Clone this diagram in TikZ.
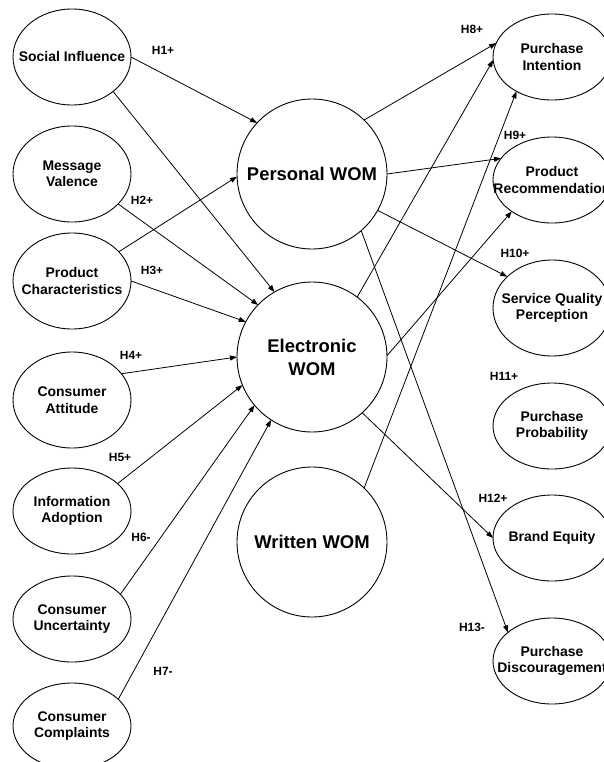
\documentclass[tikz,border=0pt]{standalone}
\usepackage{fontspec}
\setmainfont{Liberation Sans}
\usetikzlibrary{arrows.meta,shapes.geometric}
\begin{document}
\begin{tikzpicture}[x=1bp,y=-1bp,
  oval/.style={draw, ellipse, line width=0.9bp, minimum width=118bp,
    minimum height=#1, inner sep=0pt, outer sep=0pt},
  oval/.default=86bp,
  txt/.style={font=\bfseries\fontsize{14}{16.5}\selectfont, align=center},
  bigc/.style={draw, circle, line width=0.9bp, minimum size=150bp,
    inner sep=0pt, outer sep=0pt, align=center,
    font=\bfseries\fontsize{18.5}{23}\selectfont},
  hyp/.style={font=\bfseries\fontsize{12}{14}\selectfont, inner sep=0pt},
  link/.style={line width=0.8bp, -{Triangle[length=7bp,width=5bp]}}]

\path[use as bounding box] (0,0) rectangle (604,762);
\clip (0,0) rectangle (604,762);

% antecedents
\node[oval=96bp, label={[txt]center:Social Influence}] (si) at (72,57) {};
\node[oval=96bp, label={[txt]center:Message\\Valence}] (mv) at (72,174) {};
\node[oval=96bp, label={[txt]center:Product\\Characteristics}] (pc) at (72,281) {};
\node[oval=96bp, label={[txt]center:Consumer\\Attitude}] (ca) at (72,400) {};
\node[oval, label={[txt]center:Information\\Adoption}] (ia) at (72,511) {};
\node[oval, label={[txt]center:Consumer\\Uncertainty}] (cu) at (72,619) {};
\node[oval, label={[txt]center:Consumer\\Complaints}] (cc) at (72,726) {};

% word of mouth
\node[bigc] (pw) at (312,174) {Personal WOM};
\node[bigc] (ew) at (312,357) {Electronic\\WOM};
\node[bigc] (ww) at (312,542) {Written WOM};

% outcomes
\node[oval, label={[txt]center:Purchase\\Intention}] (pi) at (552,57) {};
\node[oval, label={[txt]center:Product\\Recommendation}] (pr) at (552,180) {};
\node[oval=96bp, label={[txt]center:Service Quality\\Perception}] (sq) at (552,308) {};
\node[oval, label={[txt]center:Purchase\\Probability}] (pp) at (552,426) {};
\node[oval, label={[txt]center:Brand Equity}] (be) at (552,538) {};
\node[oval, label={[txt]center:Purchase\\Discouragement}] (pd) at (552,661) {};

% hypothesis labels
\node[hyp] (h1) at (163,50) {H1+};
\node[hyp] (h2) at (142,200) {H2+};
\node[hyp] (h3) at (152,270) {H3+};
\node[hyp] (h4) at (131,355) {H4+};
\node[hyp] (h5) at (120,457) {H5+};
\node[hyp] (h6) at (141,537) {H6-};
\node[hyp] (h7) at (163,671) {H7-};
\node[hyp] (h8) at (472,29) {H8+};
\node[hyp] (h9) at (515,135) {H9+};
\node[hyp] (h10) at (515,253) {H10+};
\node[hyp] (h11) at (504,376) {H11+};
\node[hyp] (h12) at (493,498) {H12+};
\node[hyp] (h13) at (472,627) {H13-};

% paths into word of mouth
\draw[link] (si.east) -- (pw.137);
\draw[link] (si.-40.5) -- (ew.120);
\draw[link] (mv.-33) -- (ew.136);
\draw[link] (pc.32.5) -- (pw.182);
\draw[link] (pc.east) -- (ew.152);
\draw[link] (ca.28) -- (ew.180);
\draw[link] (ia.31) -- (ew.202);
\draw[link] (cu.27.5) -- (ew.220);
\draw[link] (cc.30) -- (ew.237);

% paths to outcomes
\draw[link] (pw.46) -- (pi.166);
\draw[link] (ew.53) -- (pi.183);
\draw[link] (ww.46) -- (pi.224);
\draw[link] (pw.east) -- (pr.157);
\draw[link] (ew.1.5) -- (pr.218);
\draw[link] (pw.-29.3) -- (sq.145.4);
\draw[link] (pw.-49.2) -- (pd.147.2);
\draw[link] (ew.-48.7) -- (be.west);

\end{tikzpicture}
\end{document}
